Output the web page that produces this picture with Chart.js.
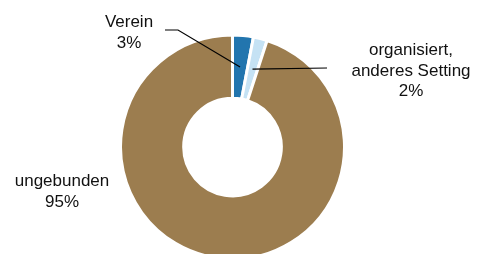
<!DOCTYPE html>
<html>
<head>
<meta charset="utf-8">
<script src="https://cdn.jsdelivr.net/npm/chart.js@4/dist/chart.umd.min.js"></script>
<style>
    html, body { margin: 0; padding: 0; background: #fff; }
    #wrap { width: 479px; height: 254px; overflow: hidden; }
</style>
</head>
<body>
<div id="wrap"><canvas id="donut" width="479" height="254"></canvas></div>
<script>
const categories = ['Verein', 'organisiert, anderes Setting', 'ungebunden'];
const labelLines = [['Verein'], ['organisiert,', 'anderes Setting'], ['ungebunden']];
const shares = [3, 2, 95];
const sliceColors = ['#2275AE', '#C5E2F4', '#9C7D4F'];

// where each label sits and how its leader line runs (layout only)
const labelLayout = [
    { x: 129, y: 27, leader: [[178, 30], [165, 30]] },
    { x: 411, y: 55, leader: [[327, 68]] },
    { x: 62, y: 186, leader: null }
];

const labelPlugin = {
    id: 'sliceLabels',
    afterDraw(chart) {
        const ctx = chart.ctx;
        const arcs = chart.getDatasetMeta(0).data;
        ctx.save();
        arcs.forEach(function (arc, i) {
            const lay = labelLayout[i];
            if (lay.leader) {
                const p = arc.getCenterPoint();
                ctx.beginPath();
                ctx.moveTo(p.x, p.y);
                lay.leader.forEach(pt => ctx.lineTo(pt[0], pt[1]));
                ctx.strokeStyle = '#000';
                ctx.lineWidth = 1.2;
                ctx.stroke();
            }
            const lines = labelLines[i].concat([shares[i] + '%']);
            ctx.fillStyle = '#111';
            ctx.font = '17px "Liberation Sans", Arial, sans-serif';
            ctx.textAlign = 'center';
            ctx.textBaseline = 'alphabetic';
            lines.forEach(function (t, k) {
                ctx.fillText(t, lay.x, lay.y + k * 20.5);
            });
        });
        ctx.restore();
    }
};

new Chart(document.getElementById('donut').getContext('2d'), {
    type: 'doughnut',
    data: {
        labels: categories,
        datasets: [{
            data: shares,
            backgroundColor: sliceColors,
            borderColor: '#fff',
            borderWidth: 3,
            clip: false
        }]
    },
    options: {
        responsive: false,
        animation: false,
        radius: 112,
        cutout: 46,
        layout: { padding: { left: 0, right: 14, top: 40, bottom: 0 } },
        plugins: {
            legend: { display: false },
            tooltip: { enabled: false }
        }
    },
    plugins: [labelPlugin]
});
</script>
</body>
</html>
